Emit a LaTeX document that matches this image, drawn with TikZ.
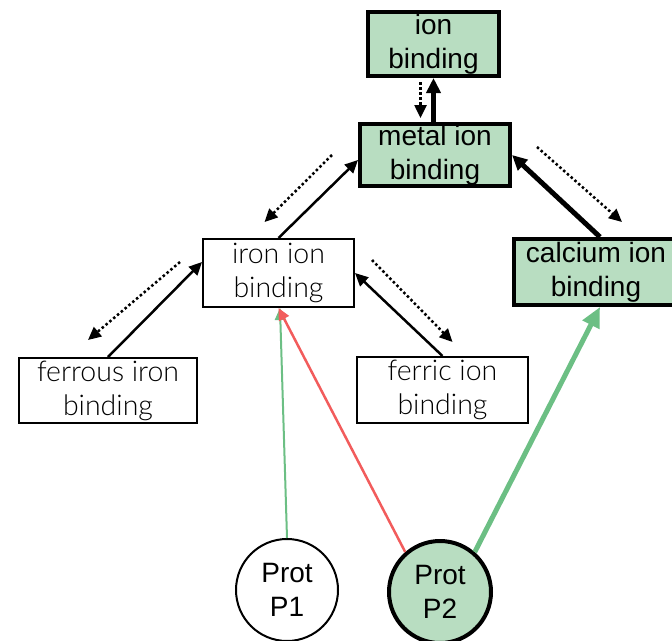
\documentclass[tikz,border=0pt]{standalone}
\usepackage{fontspec}
\setmainfont{Liberation Sans}
\newfontfamily\lightfont{Lato}[UprightFont=* Light]
\usetikzlibrary{arrows.meta,positioning,calc}
\definecolor{gofill}{HTML}{B8DDC1}
\definecolor{goline}{HTML}{6CBF84}
\definecolor{badline}{HTML}{F25C5C}

\begin{document}
\begin{tikzpicture}[x=1pt, y=-1pt,
  term/.style={rectangle, draw, line width=2pt, inner sep=0pt, align=center,
    font=\lightfont\fontsize{28.5}{34}\selectfont},
  hit/.style={term, fill=gofill, line width=4pt, font=\fontsize{28}{34}\selectfont},
  prot/.style={circle, draw, line width=2pt, minimum size=102pt, inner sep=0pt,
    align=center, font=\fontsize{28}{34}\selectfont},
  arr/.style={-{Triangle[length=13pt,width=12pt]}, line width=2.5pt},
  bigarr/.style={-{Triangle[length=15pt,width=14pt]}, line width=5pt},
  dotarr/.style={-{Triangle[length=13pt,width=12pt]}, line width=2.5pt,
    dash pattern=on 2.5pt off 2.5pt}
]
  \useasboundingbox (0,0) rectangle (672,640);
  % GO terms
  \node[hit, minimum width=131pt, minimum height=64pt] (ion) at (433.5,44) {ion\\binding};
  \node[hit, minimum width=150pt, minimum height=62pt] (mtl) at (435,155) {metal ion\\binding};
  \node[term, minimum width=151pt, minimum height=68pt] (iron) at (278.5,273) {iron ion\\binding};
  \node[hit, minimum width=164pt, minimum height=66pt] (cal) at (596,272) {calcium ion\\binding};
  \node[term, minimum width=178pt, minimum height=65pt] (frs) at (108,390.5) {ferrous iron\\binding};
  \node[term, minimum width=171pt, minimum height=66pt] (frc) at (442.5,390) {ferric ion\\binding};
  % proteins
  \node[prot] (p1) at (287,590) {Prot\\P1};
  \node[prot, fill=gofill, line width=4pt] (p2) at (440,592) {Prot\\P2};

  % is_a edges
  \draw[bigarr] (ion.south |- mtl.north) -- (ion.south);
  \draw[dotarr] ($(ion.south)+(-13,4)$) -- ($(ion.south |- mtl.north)+(-13,-4)$);
  \draw[arr] (iron.north) -- ([yshift=-5pt]mtl.west);
  \draw[dotarr] ($(mtl.west)+(-26,0)$) -- ($(iron.north)+(-14,-16)$);
  \draw[bigarr] ([xshift=4pt]cal.north) -- (mtl.east);
  \draw[dotarr] ($(mtl.east)+(25,-8)$) -- ($(cal.north)+(26,-15)$);
  \draw[arr] (frs.north) -- ([yshift=11pt]iron.west);
  \draw[dotarr] ($(iron.west)+(-22,-11)$) -- ($(frs.north)+(-20,-17)$);
  \draw[arr] (frc.north) -- (iron.east);
  \draw[dotarr] ($(iron.east)+(17,-13)$) -- ($(frc.north)+(10,-14)$);

  % annotations
  \draw[-{Triangle[length=12pt,width=11pt]}, goline, line width=2pt] (p1.north) -- ([xshift=1.5pt]iron.south);
  \draw[-{Triangle[length=12pt,width=11pt]}, badline, line width=2.5pt] (p2.131) -- (iron.south);
  \draw[-{Triangle[length=20pt,width=18pt]}, goline, line width=5pt] (p2.49) -- ([xshift=4pt]cal.south);
\end{tikzpicture}
\end{document}
